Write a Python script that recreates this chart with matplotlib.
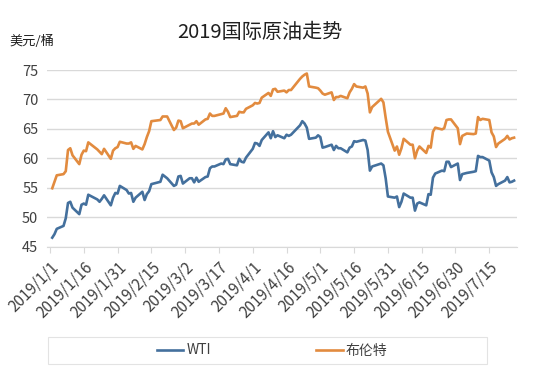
import pandas as pd
import matplotlib
matplotlib.use('Agg')
import matplotlib.pyplot as plt
import matplotlib.patches as patches

# 字体
plt.rcParams['font.family'] = ['Noto Sans CJK SC', 'DejaVu Sans']
plt.rcParams['axes.unicode_minus'] = False

# ====================== 数据 ======================
title = '2019国际原油走势'
unit_label = '美元/桶'
series_names = ['WTI', '布伦特']

# 交易日（美国节假日除外）
holidays = ['2019-01-21', '2019-02-18', '2019-04-19', '2019-05-27', '2019-07-04']
dates = pd.bdate_range('2019-01-02', '2019-07-26')
dates = dates[~dates.isin(pd.to_datetime(holidays))]

wti = [
    # 1月
    46.5, 47.1, 48.0, 48.5, 49.8, 52.4, 52.6, 51.6, 50.5, 52.1, 52.3, 52.1, 53.8,
    53.0, 52.6, 53.1, 53.7, 52.0, 53.3, 54.1, 54.0,
    # 2月
    55.3, 54.6, 54.0, 54.1, 52.6, 53.3, 54.3, 52.9, 53.9, 54.4, 55.6, 56.0, 57.2,
    56.9, 56.6, 55.3, 55.5, 56.9, 57.0,
    # 3月
    55.7, 56.6, 56.6, 55.9, 56.7, 56.0, 56.8, 56.9, 58.3, 58.6, 58.6, 59.1, 59.0,
    59.8, 59.9, 59.0, 58.8, 59.9, 59.4, 59.3, 60.1,
    # 4月
    61.6, 62.6, 62.5, 62.1, 63.1, 64.4, 63.4, 64.6, 63.6, 63.9, 63.4, 64.0, 63.8,
    64.0, 65.6, 66.3, 65.9, 65.2, 63.3, 63.5, 63.9,
    # 5月
    63.6, 61.8, 61.9, 62.3, 61.4, 62.1, 61.7, 61.7, 61.0, 61.8, 62.0, 62.9, 62.8,
    63.1, 63.0, 61.4, 57.9, 58.6, 59.1, 58.8, 56.6, 53.5,
    # 6月
    53.3, 53.5, 51.7, 52.6, 54.0, 53.3, 53.3, 51.1, 52.3, 52.5, 52.0, 53.9, 53.8,
    56.7, 57.4, 57.9, 57.8, 59.4, 59.4, 58.5,
    # 7月
    59.1, 56.3, 57.3, 57.5, 57.7, 57.8, 60.4, 60.2, 60.2, 59.6, 57.6, 56.8, 55.3,
    55.6, 56.2, 56.8, 55.9, 56.0, 56.2,
]

brent = [
    # 1月
    54.9, 56.0, 57.1, 57.3, 57.8, 61.4, 61.7, 60.5, 59.0, 60.6, 61.3, 61.2, 62.7,
    61.5, 61.1, 60.7, 61.6, 59.9, 61.3, 61.7, 61.9,
    # 2月
    62.8, 62.5, 62.5, 62.7, 61.6, 62.1, 61.5, 62.4, 63.6, 64.6, 66.3, 66.5, 67.1,
    67.1, 67.1, 64.8, 65.2, 66.4, 66.3,
    # 3月
    65.1, 65.7, 65.9, 65.9, 66.3, 65.7, 66.6, 66.7, 67.6, 67.2, 67.2, 67.5, 67.6,
    68.5, 67.9, 67.0, 67.2, 67.9, 67.8, 67.8, 68.4,
    # 4月
    69.0, 69.4, 69.3, 69.4, 70.3, 71.1, 70.6, 71.7, 71.8, 71.3, 71.5, 71.2, 71.6,
    71.6, 73.5, 73.9, 74.2, 74.4, 72.2, 72.0, 71.9,
    # 5月
    71.5, 71.0, 70.8, 71.2, 69.9, 70.4, 70.4, 70.6, 70.2, 71.2, 71.8, 72.6, 72.2,
    72.0, 72.2, 71.0, 67.8, 68.7, 70.1, 69.5, 66.9, 64.5,
    # 6月
    61.3, 62.0, 60.6, 61.7, 63.3, 62.3, 62.3, 60.0, 61.3, 62.0, 60.9, 62.1, 61.8,
    64.5, 65.2, 64.9, 65.1, 66.5, 66.6, 66.6,
    # 7月
    65.1, 62.4, 63.8, 64.2, 64.1, 64.2, 67.0, 66.5, 66.7, 66.5, 64.4, 63.7, 61.9,
    62.5, 63.3, 63.8, 63.2, 63.4, 63.5,
]

tick_dates = pd.date_range('2019-01-01', periods=14, freq='15D')
tick_labels = [f'{d.year}/{d.month}/{d.day}' for d in tick_dates]
y_ticks = [45, 50, 55, 60, 65, 70, 75]

# ====================== 绘图 ======================
colors = ['#44709D', '#E28B3F']
grid_color = '#D9D9D9'
text_color = '#404040'

fig = plt.figure(figsize=(5.54, 3.73), dpi=100)
ax = fig.add_axes([46.5 / 554, 1 - 246.5 / 373, (517 - 46.5) / 554, (246.5 - 70) / 373])

ax.plot(dates, wti, color=colors[0], linewidth=1.9, label=series_names[0])
ax.plot(dates, brent, color=colors[1], linewidth=1.9, label=series_names[1])

ax.set_ylim(45, 75)
ax.set_yticks(y_ticks)
ax.set_xlim(pd.Timestamp('2019-01-01') - pd.Timedelta(days=1.55),
            pd.Timestamp('2019-01-01') + pd.Timedelta(days=207.3))
ax.set_xticks(tick_dates)
ax.set_xticklabels(tick_labels, rotation=45, ha='right', rotation_mode='anchor')

ax.grid(axis='y', color=grid_color, linewidth=1.0)
ax.set_axisbelow(True)
for side in ['left', 'right', 'top']:
    ax.spines[side].set_visible(False)
ax.spines['bottom'].set_color(grid_color)
ax.tick_params(axis='y', length=0, labelsize=10.5, labelcolor=text_color, pad=6)
ax.tick_params(axis='x', length=4, color=grid_color, labelsize=11,
               labelcolor=text_color, pad=5)

# 标题与单位
fig.text(260 / 554, 1 - 32 / 373, title, ha='center', va='center',
         fontsize=14.5, color='#1F1F1F')
fig.text(9 / 554, 1 - 41 / 373, unit_label, ha='left', va='center',
         fontsize=9.5, color='#1F1F1F')

# 图例
fig.patches.append(patches.Rectangle((48 / 554, 1 - 364 / 373), 439 / 554, 27 / 373,
                                     transform=fig.transFigure, fill=False,
                                     edgecolor='#E3E3E3', linewidth=0.8))
leg = fig.legend(loc='center', bbox_to_anchor=(272 / 554, 1 - 350.5 / 373), ncol=2,
                 frameon=False, fontsize=10, handlelength=1.9, handletextpad=0.2,
                 columnspacing=7.6)
for t in leg.get_texts():
    t.set_color(text_color)

plt.savefig('out.png', dpi=100)
